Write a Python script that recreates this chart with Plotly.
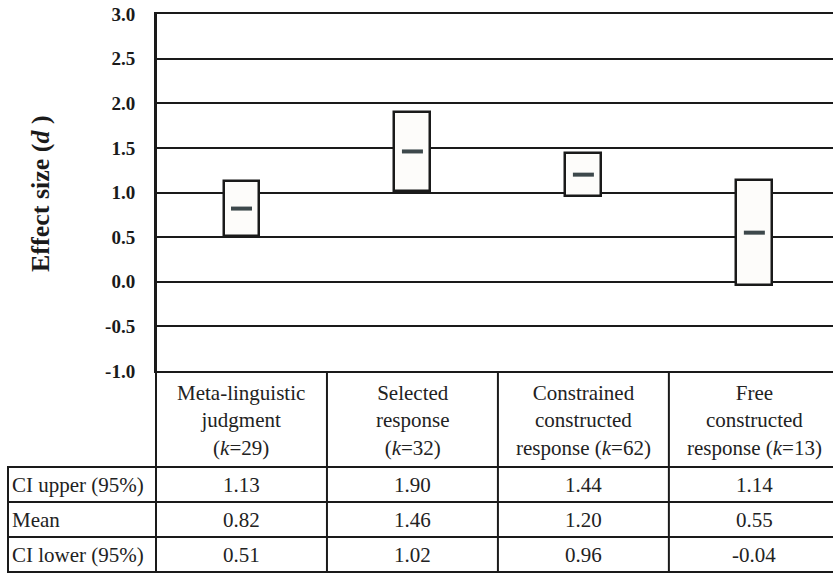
import plotly.graph_objects as go

# Effect sizes by outcome-measure type
categories = [
    "Meta-linguistic<br>judgment<br>(<i>k</i>=29)",
    "Selected<br>response<br>(<i>k</i>=32)",
    "Constrained<br>constructed<br>response (<i>k</i>=62)",
    "Free<br>constructed<br>response (<i>k</i>=13)",
]
ci_upper = [1.13, 1.90, 1.44, 1.14]
mean_d = [0.82, 1.46, 1.20, 0.55]
ci_lower = [0.51, 1.02, 0.96, -0.04]
row_labels = ["CI upper (95%)", "Mean", "CI lower (95%)"]
y_ticks = [-1.0, -0.5, 0.0, 0.5, 1.0, 1.5, 2.0, 2.5, 3.0]

W, H = 833, 577
SERIF = "Liberation Serif"
INK = "#1a1a1a"


def py(pix):
    """Pixel row (from the top) to paper y."""
    return 1 - pix / H


x_idx = list(range(len(categories)))
plot_top, plot_bottom = 14, 371
row_lines = [467, 502, 537, 572]

fig = go.Figure()

# Confidence-interval boxes
fig.add_trace(go.Bar(
    x=x_idx,
    y=[u - l for u, l in zip(ci_upper, ci_lower)],
    base=ci_lower,
    width=0.21,
    marker=dict(color="#fdfcfa", line=dict(color=INK, width=2.5)),
    hoverinfo="skip",
    showlegend=False,
))

# Mean markers
fig.add_trace(go.Scatter(
    x=x_idx, y=mean_d, mode="markers",
    marker=dict(symbol="line-ew", size=15, line=dict(color="#3d484b", width=4)),
    showlegend=False, hoverinfo="skip",
))

shapes = []
annotations = []

# Left border running through the table
shapes.append(dict(type="line", xref="paper", yref="paper",
                   x0=156 / W, x1=156 / W, y0=py(plot_top), y1=py(row_lines[-1]),
                   line=dict(color=INK, width=2)))
# Column separators inside the table
for i in range(1, len(categories)):
    shapes.append(dict(type="line", xref="x", yref="paper",
                       x0=i - 0.5, x1=i - 0.5, y0=py(plot_bottom), y1=py(row_lines[-1]),
                       line=dict(color=INK, width=2)))
# Row lines of the value table
for rl in row_lines:
    shapes.append(dict(type="line", xref="paper", yref="paper",
                       x0=7 / W, x1=1, y0=py(rl), y1=py(rl),
                       line=dict(color=INK, width=2)))
# Left border of the row-label column
shapes.append(dict(type="line", xref="paper", yref="paper",
                   x0=8 / W, x1=8 / W, y0=py(row_lines[0]), y1=py(row_lines[-1]),
                   line=dict(color=INK, width=2)))

TXT = dict(family=SERIF, size=21, color="#222")

# Category labels
for i, c in enumerate(categories):
    annotations.append(dict(x=i, y=py(420), xref="x", yref="paper", text=c,
                            showarrow=False, align="center", yanchor="middle",
                            font=TXT))

# Table rows
rows = [ci_upper, mean_d, ci_lower]
for r, (lab, vals) in enumerate(zip(row_labels, rows)):
    yc = (row_lines[r] + row_lines[r + 1]) / 2
    annotations.append(dict(x=10 / W, y=py(yc), xref="paper", yref="paper",
                            text=lab, showarrow=False, xanchor="left",
                            yanchor="middle", font=TXT))
    for i, v in enumerate(vals):
        annotations.append(dict(x=i, y=py(yc), xref="x", yref="paper",
                                text=f"{v:.2f}", showarrow=False,
                                yanchor="middle", font=TXT))

# Axis title
annotations.append(dict(x=40 / W, y=py(194), xref="paper", yref="paper",
                        text="<b>Effect size (<i>d</i> )</b>", textangle=-90,
                        showarrow=False, xanchor="center", yanchor="middle",
                        font=dict(family=SERIF, size=26, color=INK)))

fig.update_layout(
    width=W, height=H,
    margin=dict(l=0, r=0, t=0, b=0, autoexpand=False),
    paper_bgcolor="white", plot_bgcolor="white",
    font=dict(family=SERIF),
    bargap=0,
    shapes=shapes,
    annotations=annotations,
    xaxis=dict(domain=[156 / W, 1], range=[-0.5, 3.46], automargin=False,
               showgrid=False, zeroline=False, showticklabels=False,
               showline=True, mirror=True, linecolor=INK, linewidth=2,
               fixedrange=True),
    yaxis=dict(domain=[py(plot_bottom), py(plot_top)], range=[-1, 3],
               automargin=False,
               tickvals=y_ticks, ticktext=[f"<b>{t:.1f}</b>" for t in y_ticks],
               tickfont=dict(family=SERIF, size=19, color=INK),
               ticks="", ticklabelstandoff=15,
               showgrid=True, gridcolor=INK, gridwidth=2,
               zeroline=False, showline=True, linecolor=INK, linewidth=2,
               fixedrange=True),
)

fig.write_html("out.html")
